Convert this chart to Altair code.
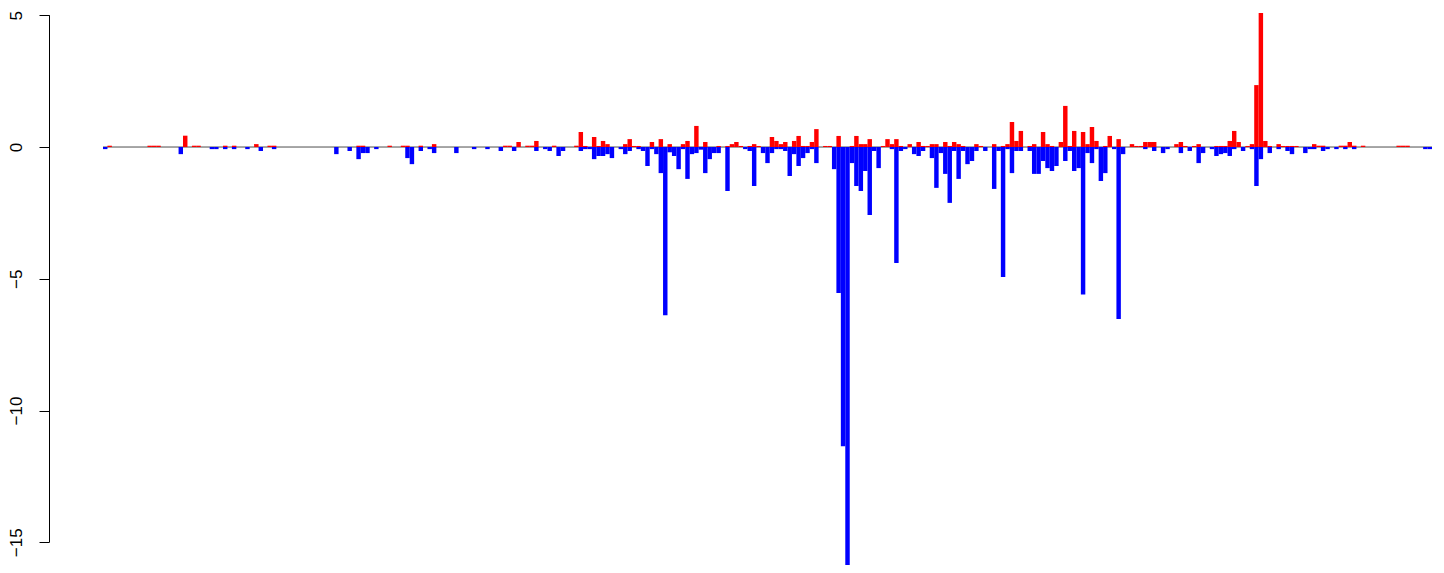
import altair as alt
import pandas as pd

N = 299

red_values = [
    0, 0.05, 0, 0, 0, 0, 0, 0, 0, 0,
    0.05, 0.05, 0.05, 0, 0, 0, 0, 0, 0.43, 0,
    0.05, 0.05, 0, 0, 0, 0, 0, 0.05, 0, 0.05,
    0, 0, 0, 0, 0.11, 0, 0, 0.05, 0.05, 0,
    0, 0, 0, 0, 0, 0, 0, 0, 0, 0,
    0, 0, 0, 0, 0, 0, 0, 0.05, 0.05, 0,
    0, 0, 0, 0, 0.05, 0, 0, 0.05, 0.05, 0,
    0, 0.05, 0, 0, 0.11, 0, 0, 0, 0, 0,
    0, 0, 0, 0, 0, 0, 0, 0, 0, 0,
    0.05, 0.05, 0, 0.19, 0, 0.05, 0.05, 0.23, 0, 0,
    0, 0.05, 0, 0, 0, 0, 0.05, 0.57, 0.04, 0,
    0.38, 0.04, 0.23, 0.11, 0, 0, 0, 0.11, 0.3, 0.04,
    0.04, 0, 0, 0.19, 0, 0.3, 0, 0.11, 0, 0,
    0.11, 0.23, 0, 0.8, 0, 0.19, 0, 0, 0.04, 0,
    0.04, 0.11, 0.19, 0.04, 0, 0.04, 0.11, 0.04, 0, 0,
    0.38, 0.23, 0.11, 0.19, 0, 0.23, 0.42, 0.04, 0.04, 0.19,
    0.68, 0, 0.04, 0.04, 0, 0.42, 0, 0, 0.04, 0.42,
    0.11, 0.11, 0.3, 0, 0, 0.04, 0.3, 0.11, 0.3, 0.04,
    0, 0.11, 0, 0.19, 0.04, 0.04, 0.11, 0.11, 0, 0.19,
    0.04, 0.19, 0.11, 0.04, 0, 0, 0.11, 0.04, 0, 0,
    0.11, 0, 0.04, 0.11, 0.95, 0.23, 0.61, 0, 0.04, 0.11,
    0, 0.57, 0.11, 0.04, 0, 0.19, 1.56, 0.04, 0.61, 0,
    0.57, 0.11, 0.76, 0.23, 0, 0.04, 0.42, 0, 0.3, 0,
    0, 0.11, 0.04, 0.04, 0.19, 0.19, 0.19, 0, 0, 0,
    0, 0.11, 0.19, 0.04, 0, 0.04, 0.11, 0, 0, 0,
    0.04, 0.04, 0.04, 0.23, 0.61, 0.19, 0, 0.04, 0.11, 2.35,
    5.09, 0.23, 0.04, 0, 0.11, 0.04, 0.04, 0.04, 0.04, 0,
    0, 0, 0.11, 0.05, 0.05, 0, 0, 0, 0.05, 0.05,
    0.19, 0.05, 0, 0.05, 0, 0, 0, 0, 0, 0,
    0, 0.05, 0.05, 0.05, 0, 0, 0, 0, 0,
]

blue_values = [
    -0.08, 0, 0, 0, 0, 0, 0, 0, 0, 0,
    0, 0, 0, 0, 0, 0, 0, -0.27, 0, 0,
    0, 0, 0, 0, -0.08, -0.08, 0, -0.08, 0, -0.08,
    0, 0, -0.08, 0, 0, -0.15, 0, 0, -0.08, 0,
    0, 0, 0, 0, 0, 0, 0, 0, 0, 0,
    0, 0, -0.27, 0, 0, -0.15, 0, -0.46, -0.23, -0.23,
    0, -0.08, 0, 0, 0, 0, 0, 0, -0.42, -0.65,
    0, -0.15, 0, -0.08, -0.23, 0, 0, 0, 0, -0.23,
    0, 0, 0, -0.08, 0, 0, -0.08, 0, 0, -0.15,
    0, 0, -0.15, 0, 0, 0, 0, -0.15, 0, -0.08,
    -0.15, 0, -0.34, -0.15, 0, 0, 0, -0.15, -0.08, -0.08,
    -0.46, -0.34, -0.34, -0.27, -0.42, 0, -0.08, -0.27, -0.15, 0,
    -0.08, -0.15, -0.72, -0.08, -0.27, -0.99, -6.38, -0.2, -0.34, -0.84,
    -0.08, -1.21, -0.27, -0.23, -0.1, -0.99, -0.46, -0.23, -0.23, 0,
    -1.67, 0, 0, 0, -0.08, -0.15, -1.48, 0, -0.23, -0.61,
    -0.23, -0.08, -0.08, -0.15, -1.1, -0.27, -0.72, -0.42, -0.23, -0.08,
    -0.61, 0, 0, 0, -0.84, -5.54, -11.35, -16.1, -0.61, -1.48,
    -1.67, -0.91, -2.58, -0.15, -0.8, 0, 0, -0.08, -4.4, -0.15,
    -0.08, 0, -0.27, -0.34, -0.15, 0, -0.42, -1.55, -0.23, -1.02,
    -2.12, -0.15, -1.21, -0.15, -0.65, -0.53, -0.15, 0, -0.15, 0,
    -1.59, -0.15, -4.93, -0.08, -0.99, -0.15, -0.15, 0, -0.15, -1.02,
    -1.02, -0.53, -0.8, -0.91, -0.72, 0, -0.53, -0.15, -0.91, -0.8,
    -5.6, -0.23, -0.61, -0.08, -1.29, -0.99, 0, -0.08, -6.53, -0.27,
    0, 0, 0, 0, -0.08, 0, -0.15, 0, -0.23, -0.08,
    0, 0, -0.23, 0, -0.15, 0, -0.61, -0.23, 0, -0.08,
    -0.34, -0.27, -0.23, -0.34, -0.08, 0, -0.15, 0, -0.08, -1.48,
    -0.46, 0, -0.23, 0, -0.08, 0, -0.15, -0.27, 0, 0,
    -0.23, -0.08, -0.08, 0, -0.15, -0.08, 0, -0.08, 0, -0.08,
    0, -0.08, 0, 0, 0, 0, 0, 0, 0, 0,
    0, 0, 0, 0, 0, 0, 0, -0.08, -0.08,
]

y_ticks = [-15, -10, -5, 0, 5]

df = pd.DataFrame({
    "i": list(range(N)),
    "red": red_values,
    "blue": blue_values,
})
df["i2"] = df["i"] + 1
df["zero"] = 0.0

xscale = alt.Scale(domain=[-12.15, 299.9], nice=False, zero=False)
yscale = alt.Scale(domain=[-15.86, 5.275], nice=False, zero=False)

yaxis = alt.Axis(values=y_ticks, domain=False, grid=False, ticks=True,
                 tickSize=10, tickColor="black", tickWidth=1,
                 labelAngle=270, labelAlign="center",
                 labelBaseline="alphabetic", labelPadding=18,
                 labelFont="Liberation Sans", labelFontSize=17,
                 labelColor="black", title=None, format="d")

base = alt.Chart(df)

zero_line = alt.Chart(pd.DataFrame({"a": [0], "b": [N], "y": [0]})).mark_rule(
    color="#4d4d4d", strokeWidth=1
).encode(
    x=alt.X("a:Q", scale=xscale, axis=None),
    x2="b:Q",
    y=alt.Y("y:Q", scale=yscale, axis=yaxis),
)

red_bars = base.mark_rect(color="#FF0000", clip=True).encode(
    x=alt.X("i:Q", scale=xscale, axis=None),
    x2="i2:Q",
    y=alt.Y("red:Q", scale=yscale, axis=yaxis),
    y2="zero:Q",
)

blue_bars = base.mark_rect(color="#0000FF", clip=True).encode(
    x=alt.X("i:Q", scale=xscale, axis=None),
    x2="i2:Q",
    y=alt.Y("blue:Q", scale=yscale, axis=yaxis),
    y2="zero:Q",
)

axis_line = alt.Chart(pd.DataFrame({"lo": [-15], "hi": [5]})).mark_rule(
    color="black", strokeWidth=1
).encode(
    x=alt.value(0.5),
    y=alt.Y("lo:Q", scale=yscale, axis=yaxis),
    y2="hi:Q",
)

chart = alt.layer(zero_line, red_bars, blue_bars, axis_line).properties(
    width=1387,
    height=557,
    autosize=alt.AutoSizeParams(type="none"),
    padding={"left": 41, "top": 0, "right": 0, "bottom": 0},
).configure_view(stroke=None)

chart.save("out.html", embed_options={"renderer": "svg", "actions": False})
